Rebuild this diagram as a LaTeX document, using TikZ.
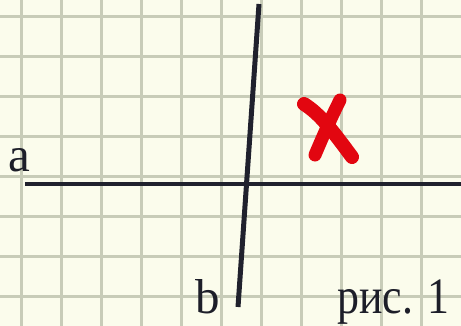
\documentclass[tikz,border=0pt]{standalone}
\usepackage{fontspec}
\setmainfont{Liberation Serif}
\usetikzlibrary{positioning}

\definecolor{paper}{RGB}{251,252,236}
\definecolor{gridline}{RGB}{200,204,184}
\definecolor{ink}{RGB}{32,33,45}
\definecolor{crossred}{RGB}{226,6,16}

\begin{document}
\begin{tikzpicture}[
    x=1pt, y=-1pt,
    cell/.style={gridline, line width=2.6pt},
    ray/.style={ink, line width=4.5pt},
    cross/.style={crossred, line width=14pt, line cap=round},
    letter/.style={anchor=base west, inner sep=0pt, font=\fontsize{49}{58}\selectfont, text=ink!90!black}
  ]
  \fill[paper] (0,0) rectangle (461,326);
  \useasboundingbox (0,0) rectangle (461,326);

  % squared paper
  \foreach \gx in {0,...,10}
    \draw[cell] (21.7+40*\gx,0) -- (21.7+40*\gx,326);
  \foreach \gy in {0,...,7}
    \draw[cell] (0,16.7+40*\gy) -- (461,16.7+40*\gy);

  % the two lines
  \coordinate (aL) at (25,184);
  \coordinate (aR) at (461,184);
  \coordinate (bT) at (259,4);
  \coordinate (bB) at (238,307);
  \draw[ray] (aL) -- (aR);
  \draw[ray, line width=5pt] (bT) -- (bB);

  \node[letter] (labA) at (8,172) {a};
  \node[letter] (labB) at (195,313) {b};
  \node[letter, font=\fontsize{51}{60}\selectfont, xscale=0.86] (caption) at (337,313) {рис. 1};

  % red cross
  \coordinate (xTL) at (304,104);
  \coordinate (xBR) at (352,157);
  \coordinate (xTR) at (340,100);
  \coordinate (xBL) at (315,155);
  \draw[cross] (xTL) .. controls (320,114) and (332,130) .. (xBR);
  \draw[cross, line width=13pt] (xTR) .. controls (331,118) and (323,136) .. (xBL);
\end{tikzpicture}
\end{document}
